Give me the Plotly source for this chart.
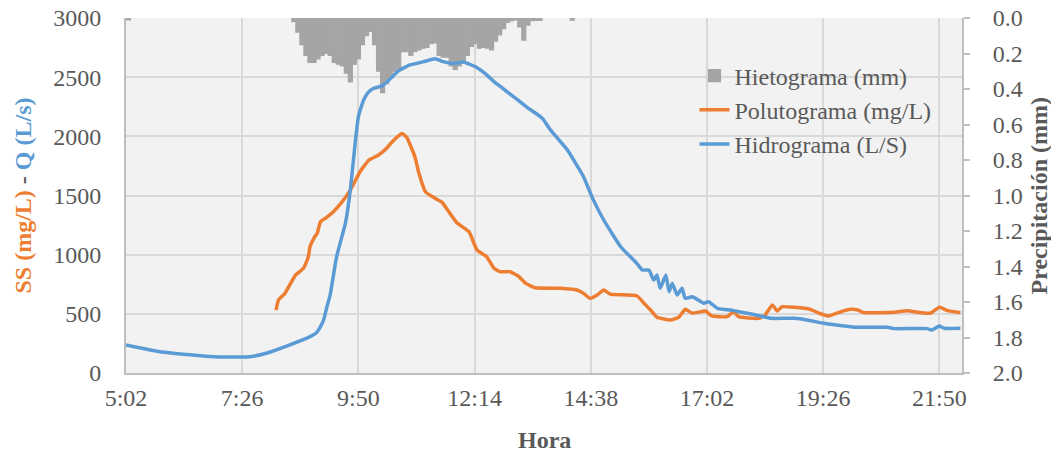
import pandas as pd
import plotly.graph_objects as go

DAY = "2020-01-01 "

# Hietograma (mm) - 5 min bins starting 08:30
rain_start = "08:30"
rain_mm = [0.02, 0.08, 0.15, 0.21, 0.25, 0.25, 0.23, 0.21, 0.20, 0.21,
           0.25, 0.26, 0.27, 0.31, 0.36, 0.26, 0.23, 0.15, 0.10, 0.075,
           0.15, 0.30, 0.42, 0.37, 0.34, 0.30, 0.29, 0.19, 0.19, 0.21,
           0.19, 0.18, 0.17, 0.165, 0.145, 0.14, 0.21, 0.22, 0.22, 0.27,
           0.29, 0.27, 0.25, 0.21, 0.16, 0.145, 0.17, 0.165, 0.17, 0.18,
           0.13, 0.095, 0.06, 0.025, 0.015, 0.01, 0.05, 0.125, 0.04, 0.015,
           0.013, 0.013]
rain_extra_times = ["05:05", "14:15"]
rain_extra_mm = [0.01, 0.012]

# Hidrograma (L/S)
q_times = ["05:02", "05:44", "06:25", "06:50", "07:36", "07:57", "08:25", "08:50",
           "08:58", "09:03", "09:07", "09:11", "09:15", "09:23", "09:34", "09:40",
           "09:46", "09:50", "09:56", "10:02", "10:09", "10:19", "10:27", "10:40",
           "10:54", "11:11", "11:25", "11:35", "11:48", "12:00", "12:15", "12:29",
           "12:38", "12:48", "12:54", "13:07", "13:20", "13:27", "13:38", "13:48",
           "14:09", "14:29", "14:40", "14:54", "15:15", "15:35", "15:42", "15:50",
           "15:56", "16:00", "16:04", "16:11", "16:15", "16:19", "16:25", "16:31",
           "16:35", "16:44", "16:58", "17:04", "17:15", "17:35", "17:52", "18:08",
           "18:21", "18:50", "19:06", "19:27", "19:52", "20:08", "20:46", "20:54",
           "21:35", "21:41", "21:50", "21:56", "22:16"]
q_ls = [237, 180, 152, 138, 138, 169, 237, 307,
        340, 391, 450, 560, 660, 983, 1268, 1546,
        1944, 2166, 2300, 2370, 2406, 2425, 2470, 2555,
        2603, 2631, 2655, 2631, 2615, 2628, 2588, 2520,
        2462, 2410, 2377, 2310, 2240, 2208, 2152, 2054,
        1884, 1659, 1480, 1293, 1067, 927, 870, 870,
        786, 828, 716, 828, 687, 758, 659, 716,
        631, 645, 589, 603, 547, 527, 505, 482,
        462, 462, 448, 420, 397, 386, 386, 375,
        375, 363, 397, 378, 378]

# Polutograma (mg/L)
ss_times = ["08:08", "08:11", "08:19", "08:32", "08:42", "08:48", "08:50", "08:56",
            "08:59", "09:03", "09:09", "09:19", "09:30", "09:40", "09:52", "10:03",
            "10:15", "10:25", "10:32", "10:44", "10:50", "11:00", "11:05", "11:13",
            "11:25", "11:34", "11:42", "11:52", "12:07", "12:17", "12:29", "12:38",
            "12:46", "12:58", "13:08", "13:17", "13:29", "14:00", "14:21", "14:29",
            "14:37", "14:46", "14:54", "15:02", "15:35", "15:44", "15:52", "16:00",
            "16:17", "16:27", "16:35", "16:44", "17:00", "17:08", "17:27", "17:35",
            "17:41", "18:06", "18:14", "18:23", "18:29", "18:35", "18:50", "19:10",
            "19:21", "19:33", "19:48", "20:00", "20:08", "20:16", "20:54", "21:10",
            "21:27", "21:39", "21:50", "22:00", "22:16"]
ss_mgl = [532, 617, 673, 828, 885, 983, 1067, 1152,
          1181, 1279, 1307, 1363, 1448, 1546, 1701, 1800,
          1842, 1899, 1955, 2025, 1990, 1828, 1687, 1532,
          1476, 1440, 1363, 1270, 1194, 1039, 983, 885,
          856, 856, 820, 760, 720, 716, 701, 673,
          631, 659, 701, 667, 653, 589, 532, 471,
          448, 471, 538, 505, 524, 482, 476, 518,
          476, 462, 490, 575, 524, 560, 555, 538,
          505, 482, 518, 538, 535, 510, 513, 527,
          510, 505, 555, 527, 510]

tick_times = ["05:02", "07:26", "09:50", "12:14", "14:38", "17:02", "19:26", "21:50"]
x_range = ["05:02", "22:18"]


def to_dt(times):
    return pd.to_datetime([DAY + t for t in times])


rain_x = list(pd.date_range(DAY + rain_start, periods=len(rain_mm), freq="5min")) + list(to_dt(rain_extra_times))
rain_y = rain_mm + rain_extra_mm

FONT = "Liberation Serif, Times New Roman, serif"
GREY_TXT = "#595959"
ORANGE = "#ed7d31"
BLUE = "#5b9bd5"
RAIN = "#a5a5a5"

fig = go.Figure()
fig.add_trace(go.Bar(
    x=rain_x, y=rain_y, width=5 * 60 * 1000,
    marker=dict(color=RAIN, line=dict(width=1.2, color=RAIN)),
    name="Hietograma (mm)", yaxis="y"
))
fig.add_trace(go.Scatter(
    x=to_dt(ss_times), y=ss_mgl, mode="lines",
    line=dict(color=ORANGE, width=3.5, shape="spline", smoothing=0.4),
    name="Polutograma (mg/L)", yaxis="y2"
))
fig.add_trace(go.Scatter(
    x=to_dt(q_times), y=q_ls, mode="lines",
    line=dict(color=BLUE, width=3.5, shape="spline", smoothing=0.4),
    name="Hidrograma (L/S)", yaxis="y2"
))

fig.update_layout(
    width=1051, height=455,
    margin=dict(l=126, r=89, t=18, b=82),
    paper_bgcolor="white",
    plot_bgcolor="#f2f2f2",
    font=dict(family=FONT, size=24, color=GREY_TXT),
    showlegend=True,
    legend=dict(x=0.68, y=0.9, xanchor="left", yanchor="top",
                bgcolor="rgba(0,0,0,0)", font=dict(size=24, color=GREY_TXT),
                traceorder="normal"),
    xaxis=dict(
        type="date", automargin=False,
        range=list(to_dt(x_range)),
        tickvals=list(to_dt(tick_times)),
        ticktext=[t.lstrip("0") for t in tick_times],
        showgrid=True, gridcolor="#d9d9d9", gridwidth=2,
        showline=True, linecolor="#bfbfbf", linewidth=2,
        ticks="", ticklabelstandoff=2,
    ),
    yaxis=dict(
        side="right", automargin=False,
        range=[2, 0],
        tickmode="linear", tick0=0, dtick=0.2, tickformat=".1f",
        showgrid=False, zeroline=False,
        showline=True, linecolor="#bfbfbf", linewidth=2,
        ticks="outside", ticklen=6, tickcolor="#bfbfbf", tickwidth=2,
        ticklabelstandoff=18, ticklabeloverflow="allow",
    ),
    yaxis2=dict(
        side="left", overlaying="y", automargin=False,
        range=[0, 3000],
        tickmode="linear", tick0=0, dtick=500,
        showgrid=True, gridcolor="#d9d9d9", gridwidth=2,
        zeroline=False,
        showline=True, linecolor="#bfbfbf", linewidth=2,
        ticks="", ticklabelstandoff=18, ticklabeloverflow="allow",
    ),
)

# axis titles
fig.add_annotation(text="<b>Hora</b>", xref="paper", yref="paper",
                   x=0.5, y=0, xanchor="center", yanchor="middle", yshift=-67,
                   showarrow=False, font=dict(size=24, color=GREY_TXT))
fig.add_annotation(text="<b>Precipitación (mm)</b>", xref="paper", yref="paper",
                   x=1, y=0.5, xanchor="center", yanchor="middle", xshift=76,
                   textangle=-90, showarrow=False,
                   font=dict(size=24, color=GREY_TXT))
fig.add_annotation(
    text=("<b><span style='color:%s'>SS (mg/L)</span> - "
          "<span style='color:%s'>Q (L/s)</span></b>") % (ORANGE, BLUE),
    xref="paper", yref="paper", x=0, y=0.5, xanchor="center", yanchor="middle",
    xshift=-104, textangle=-90, showarrow=False,
    font=dict(size=24, color=GREY_TXT))

# drop the default 8px page margin so the figure fills the window exactly
fig.write_html("out.html", config={"displayModeBar": False},
               post_script="document.body.style.margin='0';")
